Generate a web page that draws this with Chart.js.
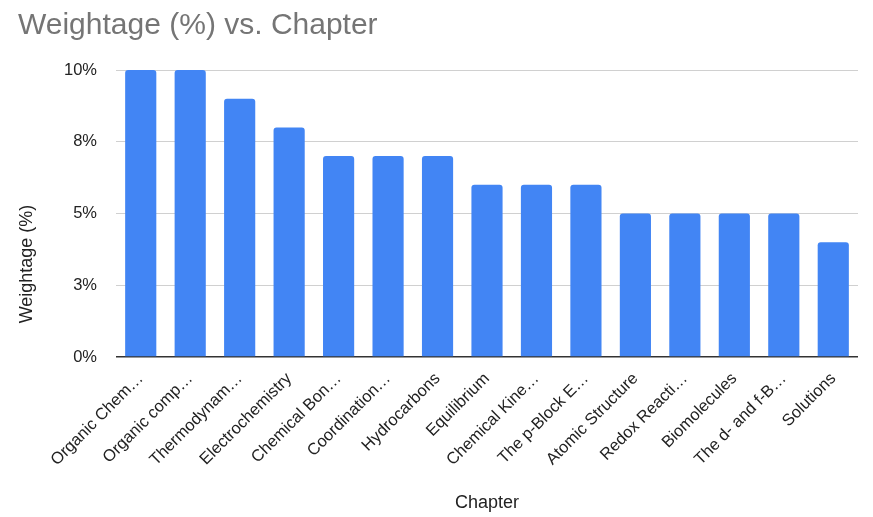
<!DOCTYPE html>
<html>
<head>
<meta charset="utf-8">
<script src="https://cdn.jsdelivr.net/npm/chart.js@4"></script>
<style>
  html, body { margin:0; padding:0; background:#fff; }
  #wrap { width:873px; height:517px; }
</style>
</head>
<body>
<div id="wrap"><canvas id="chart"></canvas></div>
<script>
// chapter labels as shown (Sheets truncates long ones)
const chapters = [
  'Organic Chem…', 'Organic comp…', 'Thermodynam…', 'Electrochemistry',
  'Chemical Bon…', 'Coordination…', 'Hydrocarbons', 'Equilibrium',
  'Chemical Kine…', 'The p-Block E…', 'Atomic Structure', 'Redox Reacti…',
  'Biomolecules', 'The d- and f-B…', 'Solutions'
];
const weightage = [10, 10, 9, 8, 7, 7, 7, 6, 6, 6, 5, 5, 5, 5, 4];
const yTickValues = [0, 2.5, 5, 7.5, 10];
const yTickLabels = ['0%', '3%', '5%', '8%', '10%'];
const yTitle = 'Weightage (%)';

const FONT = '"Liberation Sans", Arial, sans-serif';

// Sheets centres the y title over plot + label area, not just the plot
const yTitlePlugin = {
  id: 'yTitle',
  afterDraw(chart) {
    const c = chart.ctx;
    const mid = (chart.chartArea.top + chart.scales.x.bottom) / 2 - 28;
    c.save();
    c.translate(27, mid);
    c.rotate(-Math.PI / 2);
    c.fillStyle = '#222';
    c.font = '18px ' + FONT;
    c.textAlign = 'center';
    c.textBaseline = 'middle';
    c.fillText(yTitle, 0, 0);
    c.restore();
  }
};

new Chart(document.getElementById('chart'), {
  type: 'bar',
  data: {
    labels: chapters,
    datasets: [{
      label: 'Weightage (%)',
      data: weightage,
      backgroundColor: '#4285F4',
      borderRadius: 3,
      categoryPercentage: 1,
      barPercentage: 0.63
    }]
  },
  options: {
    responsive: true,
    maintainAspectRatio: false,
    animation: false,
    layout: { padding: { left: 18, right: 15, top: 0, bottom: 3 } },
    plugins: {
      legend: { display: false },
      tooltip: { enabled: false },
      title: {
        display: true,
        text: 'Weightage (%) vs. Chapter',
        align: 'start',
        color: '#757575',
        font: { family: FONT, size: 30, weight: 'normal' },
        padding: { top: 8, bottom: 26 }
      }
    },
    scales: {
      x: {
        grid: { display: false },
        border: { display: false },
        ticks: {
          autoSkip: false,
          maxRotation: 45,
          minRotation: 45,
          color: '#222',
          padding: 4,
          font: { family: FONT, size: 16.5 }
        },
        title: {
          display: true,
          text: 'Chapter',
          color: '#222',
          font: { family: FONT, size: 18 },
          padding: { top: 0, bottom: 0 }
        },
        afterFit(scale) { scale.height = 157; }
      },
      y: {
        min: 0,
        max: 10,
        afterBuildTicks(scale) {
          scale.ticks = yTickValues.map(v => ({ value: v }));
        },
        grid: {
          color: ctx => ctx.tick && ctx.tick.value === 0 ? '#333' : '#d0d0d0',
          lineWidth: ctx => ctx.tick && ctx.tick.value === 0 ? 1.5 : 1,
          drawTicks: false
        },
        border: { display: false },
        ticks: {
          color: '#222',
          padding: 19,
          font: { family: FONT, size: 16.5 },
          callback: (v, i) => yTickLabels[i]
        },
        afterFit(scale) { scale.width = 98; }
      }
    }
  },
  plugins: [yTitlePlugin]
});
</script>
</body>
</html>
